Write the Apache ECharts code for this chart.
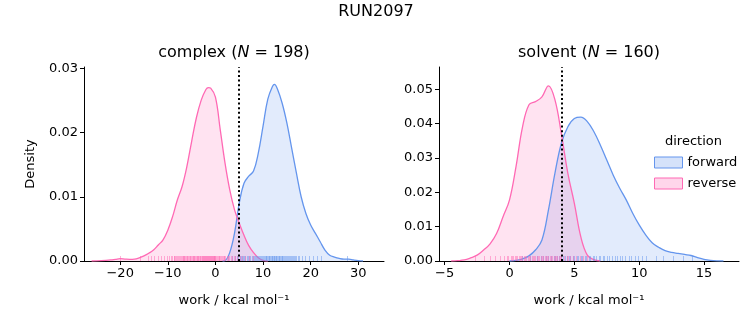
<!DOCTYPE html>
<html><head><meta charset="utf-8">
<script src="https://cdn.jsdelivr.net/npm/echarts@6/dist/echarts.min.js"></script>
<style>html,body{margin:0;padding:0;background:#fff}#c{width:753px;height:325px}</style>
</head><body><div id="c"></div>
<script>
// ---- data ----
const suptitle = 'RUN2097';
const panelNames = ['complex', 'solvent'];
const panelN = [198, 160];
const directions = ['forward', 'reverse'];
const dgLines = [4.83, 4.04];

const complexXTicks = [-20, -10, 0, 10, 20, 30];
const solventXTicks = [-5, 0, 5, 10, 15];
const complexYTicks = [0, 0.01, 0.02, 0.03];
const solventYTicks = [0, 0.01, 0.02, 0.03, 0.04, 0.05];

// complex KDE, forward
const complexFwdX = [1.5, 2, 3, 4, 5, 6, 7, 8, 9, 10, 11, 12, 12.4, 13, 14, 15, 16, 17, 18, 19, 20, 21, 22, 23, 24, 25, 26, 27, 28, 29, 30, 31];
const complexFwdY = [0, 0.00005, 0.0013, 0.0043, 0.009, 0.0121, 0.0132, 0.014, 0.0168, 0.021, 0.0252, 0.0272, 0.0275, 0.0268, 0.0246, 0.0215, 0.0176, 0.0137, 0.0100, 0.0074, 0.0056, 0.0043, 0.0030, 0.0017, 0.0009, 0.0006, 0.0004, 0.0003, 0.0003, 0.00016, 0.00005, 0];
// complex KDE, reverse
const complexRevX = [-26, -24, -22, -21, -20, -19, -18, -17, -16, -15, -14, -13, -12, -11, -10, -9, -8, -7, -6, -5, -4, -3, -2, -1.5, -1, 0, 1, 2, 3, 4, 5, 6, 7, 8, 9, 10, 11];
const complexRevY = [0, 0.00005, 0.00016, 0.00026, 0.00036, 0.0003, 0.00026, 0.0003, 0.0005, 0.0008, 0.0012, 0.0017, 0.0025, 0.0033, 0.0048, 0.0069, 0.0095, 0.0116, 0.0147, 0.0186, 0.0223, 0.025, 0.0267, 0.027, 0.0269, 0.0255, 0.0205, 0.0153, 0.0111, 0.0080, 0.0059, 0.0040, 0.0024, 0.0013, 0.0005, 0.0001, 0];
// solvent KDE, forward
const solventFwdX = [0, 0.5, 1, 1.5, 2, 2.5, 3, 3.5, 4, 4.5, 5, 5.5, 6, 6.5, 7, 7.5, 8, 8.5, 9, 9.5, 10, 10.5, 11, 11.5, 12, 12.5, 13, 13.5, 14, 14.5, 15, 15.5, 16, 16.5];
const solventFwdY = [0, 0.0002, 0.0006, 0.0015, 0.0032, 0.0061, 0.0148, 0.0255, 0.0343, 0.0391, 0.0415, 0.0419, 0.0406, 0.0377, 0.0338, 0.0294, 0.025, 0.0212, 0.0178, 0.0139, 0.0105, 0.0076, 0.0053, 0.0040, 0.0030, 0.0025, 0.0022, 0.0019, 0.0016, 0.0010, 0.0005, 0.0002, 0.00005, 0];
// solvent KDE, reverse
const solventRevX = [-4.5, -4, -3.5, -3, -2.5, -2, -1.5, -1, -0.5, 0, 0.5, 1, 1.5, 2, 2.5, 3, 3.5, 4, 4.5, 5, 5.5, 6, 6.5, 7];
const solventRevY = [0, 0.0001, 0.0003, 0.0009, 0.0017, 0.0032, 0.005, 0.008, 0.0129, 0.0178, 0.0275, 0.039, 0.0455, 0.0464, 0.0478, 0.051, 0.047, 0.037, 0.0255, 0.0168, 0.007, 0.0017, 0.0004, 0];

// rug (individual work values)
const complexFwdRug = [2.6, 3.4, 4.1, 4.5, 4.8, 5.1, 5.3, 5.6, 5.8, 6.1, 6.3, 6.6, 6.8, 7.1, 7.3, 7.6, 7.8, 8.1, 8.3, 8.6, 8.8, 9.0, 9.2, 9.4, 9.6, 9.8, 10.0, 10.2, 10.4, 10.6, 10.7, 10.9, 11.0, 11.2, 11.3, 11.5, 11.6, 11.8, 11.9, 12.1, 12.2, 12.4, 12.5, 12.7, 12.8, 13.0, 13.1, 13.3, 13.4, 13.6, 13.7, 13.9, 14.0, 14.2, 14.4, 14.6, 14.8, 15.0, 15.2, 15.4, 15.6, 15.8, 16.0, 16.3, 16.5, 16.8, 17.0, 17.3, 17.6, 18.2, 18.9, 19.6, 20.4, 21.3, 22.2, 27.7];
const complexRevRug = [-20.1, -15.8, -14.2, -13.5, -12.9, -12.1, -11.4, -10.8, -10.2, -9.7, -9.4, -9.1, -8.8, -8.6, -8.4, -8.2, -8.0, -7.8, -7.6, -7.4, -7.2, -7.1, -6.9, -6.8, -6.6, -6.5, -6.3, -6.2, -6.0, -5.9, -5.7, -5.6, -5.4, -5.3, -5.1, -5.0, -4.8, -4.7, -4.5, -4.4, -4.2, -4.1, -3.9, -3.8, -3.7, -3.6, -3.4, -3.3, -3.2, -3.1, -2.9, -2.8, -2.7, -2.6, -2.5, -2.4, -2.2, -2.1, -2.0, -1.9, -1.8, -1.7, -1.6, -1.5, -1.4, -1.3, -1.2, -1.1, -1.0, -0.9, -0.8, -0.7, -0.6, -0.5, -0.4, -0.3, -0.2, -0.1, 0.0, 0.2, 0.4, 0.5, 0.7, 0.8, 1.0, 1.1, 1.3, 1.5, 1.7, 1.9, 2.1, 2.4, 2.6, 2.9, 3.2, 3.5, 3.8, 4.2, 4.6, 5.1, 5.6, 6.3, 7.0, 7.8];
const solventFwdRug = [1.0, 1.6, 2.1, 2.4, 2.6, 2.8, 3.0, 3.2, 3.4, 3.5, 3.7, 3.8, 4.0, 4.1, 4.3, 4.4, 4.6, 4.7, 4.9, 5.0, 5.2, 5.3, 5.5, 5.6, 5.8, 5.9, 6.1, 6.2, 6.4, 6.5, 6.7, 6.9, 7.0, 7.2, 7.3, 7.5, 7.7, 7.9, 8.1, 8.3, 8.5, 8.7, 8.9, 9.2, 9.4, 9.7, 9.9, 10.2, 10.5, 11.3, 11.8, 12.6, 13.4, 14.1];
const solventRevRug = [-2.7, -2.0, -1.5, -1.1, -0.7, -0.4, -0.2, -0.1, 0.1, 0.2, 0.3, 0.4, 0.5, 0.6, 0.7, 0.8, 0.9, 1.0, 1.1, 1.2, 1.3, 1.4, 1.5, 1.6, 1.7, 1.8, 1.9, 2.0, 2.1, 2.2, 2.3, 2.4, 2.5, 2.6, 2.7, 2.8, 2.9, 3.0, 3.1, 3.2, 3.3, 3.4, 3.5, 3.6, 3.7, 3.8, 3.9, 4.0, 4.2, 4.4, 4.5, 4.7, 4.9, 5.1, 5.4, 5.7, 6.0];

// ---- styling ----
const FONT = 'DejaVu Sans';
const colors = { forward: '#6495ED', reverse: '#FF69B4' };
const fills = { forward: 'rgba(100,149,237,0.27)', reverse: 'rgba(255,105,180,0.27)' };
const grids = [
  { left: 84, top: 67, width: 300, height: 194 },
  { left: 439, top: 67, width: 300, height: 194 }
];
const xRanges = [[-27.6, 35.4], [-5.44, 17.7]];
const yMax = [0.0302, 0.0565];
const xTicks = [complexXTicks, solventXTicks];
const yTicks = [complexYTicks, solventYTicks];
const kde = [
  { forward: [complexFwdX, complexFwdY], reverse: [complexRevX, complexRevY] },
  { forward: [solventFwdX, solventFwdY], reverse: [solventRevX, solventRevY] }
];
const rugs = [
  { forward: complexFwdRug, reverse: complexRevRug },
  { forward: solventFwdRug, reverse: solventRevRug }
];
const minus = v => (v < 0 ? '\u2212' + Math.abs(v) : String(v));
const zip = (xs, ys) => xs.map((x, i) => [x, ys[i]]);

const xAxes = [0, 1].map(i => ({
  type: 'value', gridIndex: i, min: xRanges[i][0], max: xRanges[i][1],
  name: 'work / kcal mol\u207B\u00B9', nameLocation: 'middle', nameGap: 33,
  nameTextStyle: { fontFamily: FONT, fontSize: 13, color: '#000' },
  axisLine: { show: true, onZero: false, lineStyle: { color: '#000', width: 1 } },
  axisTick: { show: true, length: 4, lineStyle: { color: '#000' }, customValues: xTicks[i] },
  axisLabel: { fontFamily: FONT, fontSize: 13, color: '#000', margin: 6, customValues: xTicks[i], formatter: minus },
  splitLine: { show: false }
}));
const yAxes = [0, 1].map(i => ({
  type: 'value', gridIndex: i, min: 0, max: yMax[i],
  name: i === 0 ? 'Density' : '', nameLocation: 'middle', nameGap: 47, nameRotate: 90,
  nameTextStyle: { fontFamily: FONT, fontSize: 13, color: '#000' },
  axisLine: { show: true, onZero: false, lineStyle: { color: '#000', width: 1 } },
  axisTick: { show: true, length: 4, lineStyle: { color: '#000' }, customValues: yTicks[i] },
  axisLabel: { fontFamily: FONT, fontSize: 13, color: '#000', margin: 6, customValues: yTicks[i], formatter: v => v.toFixed(2) },
  splitLine: { show: false }
}));

const series = [];
[0, 1].forEach(i => {
  directions.forEach(d => {
    const [xs, ys] = kde[i][d];
    const s = {
      type: 'line', name: d, xAxisIndex: i, yAxisIndex: i,
      data: zip(xs, ys), smooth: 0.4, showSymbol: false, symbol: 'none',
      color: colors[d],
      lineStyle: { color: colors[d], width: 1.3 },
      areaStyle: { color: fills[d] },
      z: 2
    };
    if (d === 'reverse') {
      s.markLine = {
        silent: true, symbol: 'none', label: { show: false }, animation: false,
        lineStyle: { color: '#000', type: [2, 2.6], width: 2 },
        data: [{ xAxis: dgLines[i] }]
      };
    }
    series.push(s);
  });
  directions.forEach(d => {
    series.push({
      type: 'custom', name: d, xAxisIndex: i, yAxisIndex: i, z: 3,
      data: rugs[i][d].map(v => [v, 0]),
      renderItem: (params, api) => {
        const p = api.coord([api.value(0), 0]);
        const x = Math.round(p[0]) + 0.5;
        return { type: 'line', shape: { x1: x, y1: p[1], x2: x, y2: p[1] - 5 },
          style: { stroke: colors[d], lineWidth: 1, opacity: 0.5 } };
      }
    });
  });
});

const titles = [
  { text: suptitle, left: 376, top: 4, textAlign: 'center', padding: 0,
    textStyle: { fontFamily: FONT, fontSize: 16, fontWeight: 'normal', color: '#000' } }
];
[0, 1].forEach(i => {
  titles.push({
    text: '{a|' + panelNames[i] + ' (}{i|N}{a| = ' + panelN[i] + ')}',
    left: grids[i].left + grids[i].width / 2, top: 45, textAlign: 'center', padding: 0,
    textStyle: { fontWeight: 'normal', rich: {
      a: { fontFamily: FONT, fontSize: 16, fontWeight: 'normal', color: '#000' },
      i: { fontFamily: FONT, fontSize: 16, fontWeight: 'normal', fontStyle: 'italic', color: '#000' }
    } }
  });
});

const chart = echarts.init(document.getElementById('c'));
chart.setOption({
  animation: false,
  backgroundColor: '#fff',
  title: titles,
  grid: grids,
  xAxis: xAxes,
  yAxis: yAxes,
  legend: {
    orient: 'vertical', left: 649, top: 151, itemWidth: 28, itemHeight: 11, itemGap: 8,
    icon: 'rect', selectedMode: false,
    textStyle: { fontFamily: FONT, fontSize: 13, color: '#000' },
    data: directions.map(d => ({ name: d, icon: 'rect',
      itemStyle: { color: fills[d], borderColor: colors[d], borderWidth: 1 } }))
  },
  graphic: [{ type: 'text', left: 665, top: 135,
    style: { text: 'direction', fontFamily: FONT, fontSize: 13, fill: '#000' } }],
  series: series
});
</script>
</body></html>
